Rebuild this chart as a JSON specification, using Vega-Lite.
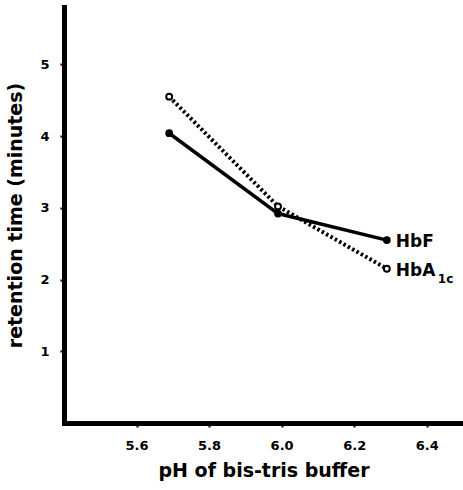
{
  "$schema": "https://vega.github.io/schema/vega-lite/v6.json",
  "width": 399,
  "height": 416,
  "autosize": {"type": "none"},
  "padding": {"left": 64, "top": 7, "right": 0, "bottom": 67},
  "background": "white",
  "config": {
    "view": {"stroke": null},
    "font": "DejaVu Sans",
    "axis": {
      "grid": false,
      "domainColor": "black",
      "domainWidth": 5,
      "domainCap": "square",
      "tickColor": "black",
      "tickWidth": 2,
      "tickSize": 4,
      "labelColor": "black",
      "labelFont": "DejaVu Sans",
      "labelFontWeight": "bold",
      "labelFontSize": 13,
      "titleColor": "black",
      "titleFont": "DejaVu Sans",
      "titleFontWeight": "bold",
      "titleFontSize": 19
    }
  },
  "datasets": {
    "pts": [
      {"ph": 5.69, "rt": 4.04, "series": "HbF"},
      {"ph": 5.99, "rt": 2.92, "series": "HbF"},
      {"ph": 6.29, "rt": 2.55, "series": "HbF"},
      {"ph": 5.69, "rt": 4.55, "series": "HbA1c"},
      {"ph": 5.99, "rt": 3.02, "series": "HbA1c"},
      {"ph": 6.29, "rt": 2.15, "series": "HbA1c"}
    ],
    "labs": [
      {"ph": 6.29, "rt": 2.55, "label": "HbF", "kind": "main"},
      {"ph": 6.29, "rt": 2.15, "label": "HbA", "kind": "main"},
      {"ph": 6.29, "rt": 2.15, "label": "1c", "kind": "sub"}
    ]
  },
  "layer": [
    {
      "data": {"name": "pts"},
      "transform": [{"filter": "datum.series === 'HbA1c'"}],
      "mark": {"type": "line", "color": "black", "strokeWidth": 4, "strokeDash": [2.5, 2.5]},
      "encoding": {
        "x": {"field": "ph", "type": "quantitative", "scale": {"domain": [5.4, 6.5], "nice": false, "zero": false},
          "axis": {"values": [5.6, 5.8, 6.0, 6.2, 6.4], "format": ".1f", "title": "pH of bis-tris buffer", "labelPadding": 12, "titlePadding": 9}},
        "y": {"field": "rt", "type": "quantitative", "scale": {"domain": [0, 5.8], "nice": false},
          "axis": {"values": [1, 2, 3, 4, 5], "format": "d", "title": "retention time (minutes)", "labelPadding": 11, "titlePadding": 14}}
      }
    },
    {
      "data": {"name": "pts"},
      "transform": [{"filter": "datum.series === 'HbF'"}],
      "mark": {"type": "line", "color": "black", "strokeWidth": 3.5},
      "encoding": {
        "x": {"field": "ph", "type": "quantitative"},
        "y": {"field": "rt", "type": "quantitative"}
      }
    },
    {
      "data": {"name": "pts"},
      "transform": [{"filter": "datum.series === 'HbF'"}],
      "mark": {"type": "point", "shape": "circle", "filled": true, "color": "black", "size": 60, "opacity": 1},
      "encoding": {
        "x": {"field": "ph", "type": "quantitative"},
        "y": {"field": "rt", "type": "quantitative"}
      }
    },
    {
      "data": {"name": "pts"},
      "transform": [{"filter": "datum.series === 'HbA1c'"}],
      "mark": {"type": "point", "shape": "circle", "filled": true, "fill": "white", "stroke": "black", "strokeWidth": 2, "size": 35, "opacity": 1},
      "encoding": {
        "x": {"field": "ph", "type": "quantitative"},
        "y": {"field": "rt", "type": "quantitative"}
      }
    },
    {
      "data": {"name": "labs"},
      "transform": [{"filter": "datum.kind === 'main'"}],
      "mark": {"type": "text", "align": "left", "baseline": "middle", "dx": 9, "dy": 2, "fontSize": 17, "fontWeight": "bold", "font": "DejaVu Sans", "color": "black"},
      "encoding": {
        "x": {"field": "ph", "type": "quantitative"},
        "y": {"field": "rt", "type": "quantitative"},
        "text": {"field": "label"}
      }
    },
    {
      "data": {"name": "labs"},
      "transform": [{"filter": "datum.kind === 'sub'"}],
      "mark": {"type": "text", "align": "left", "baseline": "middle", "dx": 51, "dy": 10, "fontSize": 12, "fontWeight": "bold", "font": "DejaVu Sans", "color": "black"},
      "encoding": {
        "x": {"field": "ph", "type": "quantitative"},
        "y": {"field": "rt", "type": "quantitative"},
        "text": {"field": "label"}
      }
    }
  ]
}
